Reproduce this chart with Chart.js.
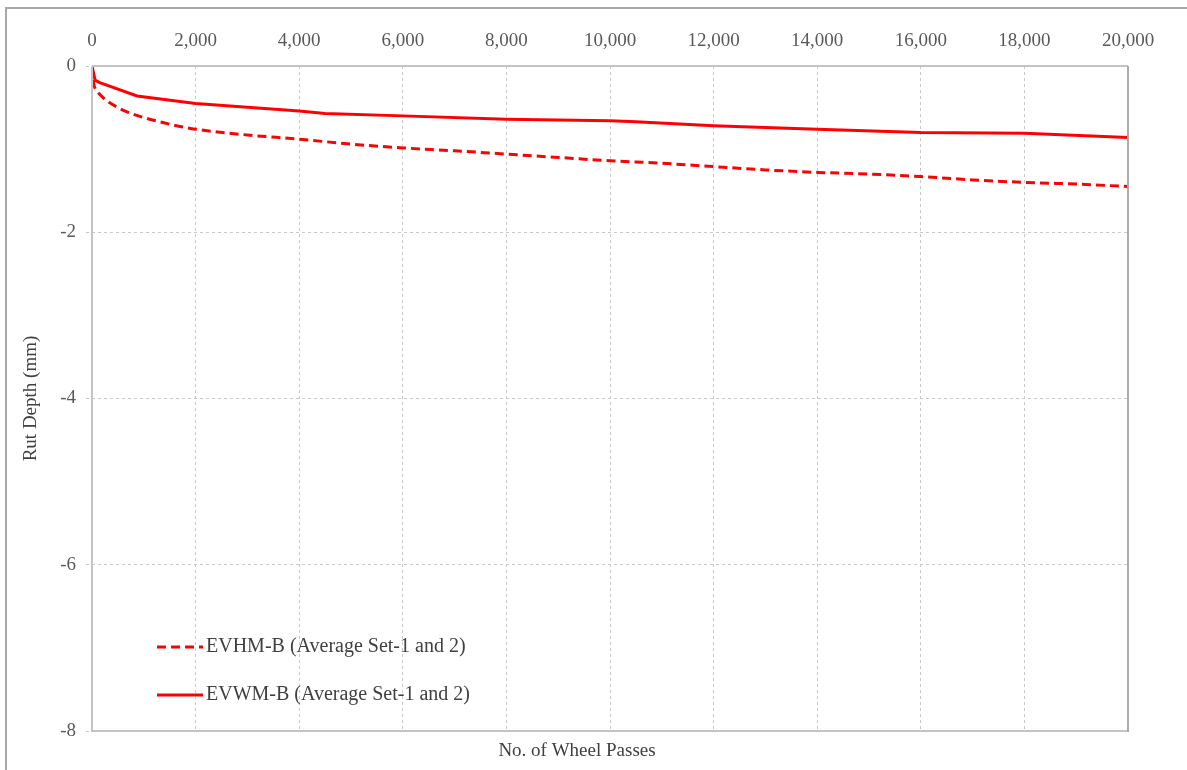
<!DOCTYPE html>
<html>
<head>
<meta charset="utf-8">
<script src="https://cdn.jsdelivr.net/npm/chart.js@4.4.1/dist/chart.umd.min.js"></script>
<style>
  html, body { margin: 0; padding: 0; background: #ffffff; }
  #wrap { position: relative; width: 1187px; height: 770px; overflow: hidden; }
  #frame { position: absolute; left: 5px; top: 7px; width: 1300px; height: 900px;
           border-left: 2px solid #a8a8a8; border-top: 2px solid #a8a8a8; }
  canvas { position: absolute; left: 0; top: 0; }
</style>
</head>
<body>
<div id="wrap">
  <div id="frame"></div>
  <canvas id="chart" width="1187" height="770"></canvas>
</div>
<script>
// Wheel-tracking rut depth, averaged over test sets 1 and 2
const seriesLabels = ['EVHM-B (Average Set-1 and 2)', 'EVWM-B (Average Set-1 and 2)'];

const evhmPasses = [0, 30, 100, 250, 500, 750, 1000, 1500, 2000, 3000, 4000, 5000, 6000, 7000, 8000, 9000, 10000, 11000, 12000, 13000, 14000, 15000, 16000, 17000, 18000, 19000, 20000];
const evhmDepth  = [0, -0.2, -0.3, -0.4, -0.5, -0.57, -0.62, -0.7, -0.76, -0.83, -0.88, -0.94, -0.985, -1.02, -1.06, -1.1, -1.14, -1.17, -1.21, -1.25, -1.28, -1.3, -1.33, -1.37, -1.4, -1.42, -1.45];

const evwmPasses = [0, 60, 150, 870, 2000, 4000, 4500, 6000, 8000, 10000, 10500, 12000, 14000, 16000, 18000, 20000];
const evwmDepth  = [0, -0.17, -0.2, -0.36, -0.45, -0.54, -0.57, -0.6, -0.64, -0.66, -0.67, -0.72, -0.76, -0.8, -0.81, -0.86];

const xTickValues = [0, 2000, 4000, 6000, 8000, 10000, 12000, 14000, 16000, 18000, 20000];
const yTickValues = [0, -2, -4, -6, -8];

const xTitle = 'No. of Wheel Passes';
const yTitle = 'Rut Depth (mm)';

const FONT = '"Liberation Serif", "Times New Roman", serif';
const pairs = (xs, ys) => xs.map((x, i) => ({ x: x, y: ys[i] }));

// Plot frame around the chart area
const framePlugin = {
  id: 'plotFrame',
  afterDatasetsDraw(chart) {
    const { ctx, chartArea: a } = chart;
    ctx.save();
    ctx.strokeStyle = '#c4c4c4';
    ctx.lineWidth = 2;
    ctx.beginPath();
    ctx.moveTo(a.left, a.top);
    ctx.lineTo(a.right, a.top);
    ctx.moveTo(a.left, a.top);
    ctx.lineTo(a.left, a.bottom);
    ctx.lineTo(a.right, a.bottom);
    ctx.stroke();
    ctx.strokeStyle = '#ababab';
    ctx.beginPath();
    ctx.moveTo(a.right, a.top);
    ctx.lineTo(a.right, a.bottom + 1);
    ctx.stroke();
    ctx.restore();
  }
};

// Axis caption under the plot
const captionPlugin = {
  id: 'bottomCaption',
  afterDraw(chart) {
    const { ctx, chartArea: a } = chart;
    ctx.save();
    ctx.font = '19px ' + FONT;
    ctx.fillStyle = '#404040';
    ctx.textAlign = 'center';
    ctx.textBaseline = 'middle';
    ctx.fillText(xTitle, (a.left + a.right) / 2 - 33, a.bottom + 20);
    ctx.restore();
  }
};

// Legend drawn inside the lower-left of the plot
const insideLegend = {
  id: 'insideLegend',
  afterDraw(chart) {
    const { ctx, chartArea: a } = chart;
    const rowY = [a.bottom - 84, a.bottom - 36];
    ctx.save();
    chart.data.datasets.forEach((ds, i) => {
      const y = rowY[i];
      const x0 = a.left + 65;
      ctx.strokeStyle = ds.borderColor;
      ctx.lineWidth = ds.borderWidth;
      ctx.setLineDash(ds.borderDash || []);
      ctx.beginPath();
      ctx.moveTo(x0, y);
      ctx.lineTo(x0 + 46, y);
      ctx.stroke();
      ctx.setLineDash([]);
      ctx.font = '20px ' + FONT;
      ctx.fillStyle = '#404040';
      ctx.textAlign = 'left';
      ctx.textBaseline = 'middle';
      ctx.fillText(ds.label, x0 + 49, y);
    });
    ctx.restore();
  }
};

new Chart(document.getElementById('chart'), {
  type: 'line',
  data: {
    datasets: [
      {
        label: seriesLabels[0],
        data: pairs(evhmPasses, evhmDepth),
        borderColor: '#ff0000',
        borderWidth: 3,
        borderDash: [9, 5],
        pointRadius: 0,
        cubicInterpolationMode: 'monotone',
        fill: false
      },
      {
        label: seriesLabels[1],
        data: pairs(evwmPasses, evwmDepth),
        borderColor: '#ff0000',
        borderWidth: 3,
        pointRadius: 0,
        tension: 0,
        fill: false
      }
    ]
  },
  options: {
    responsive: false,
    animation: false,
    layout: { padding: { left: 0, top: 0, right: 59, bottom: 39 } },
    plugins: {
      legend: { display: false },
      tooltip: { enabled: false },
      title: { display: false }
    },
    scales: {
      x: {
        type: 'linear',
        position: 'top',
        min: 0,
        max: 20000,
        afterFit: s => { s.height = 66; },
        afterBuildTicks: s => { s.ticks = xTickValues.map(v => ({ value: v })); },
        ticks: {
          padding: 14,
          color: '#595959',
          font: { family: FONT, size: 19 },
          maxRotation: 0,
          callback: v => v.toLocaleString('en-US')
        },
        grid: {
          color: '#c8c8c8',
          lineWidth: 1,
          drawTicks: false
        },
        border: { display: false, dash: [3, 3] }
      },
      y: {
        min: -8,
        max: 0,
        afterFit: s => { s.width = 92; },
        afterBuildTicks: s => { s.ticks = yTickValues.map(v => ({ value: v })); },
        title: {
          display: true,
          text: yTitle,
          color: '#404040',
          font: { family: FONT, size: 19 },
          padding: { top: 20, bottom: 0 }
        },
        ticks: {
          padding: 10,
          color: '#595959',
          font: { family: FONT, size: 19 }
        },
        grid: {
          color: '#c8c8c8',
          lineWidth: 1,
          tickLength: 6,
          tickBorderDash: [3, 3]
        },
        border: { display: false, dash: [3, 3] }
      }
    }
  },
  plugins: [framePlugin, captionPlugin, insideLegend]
});
</script>
</body>
</html>
